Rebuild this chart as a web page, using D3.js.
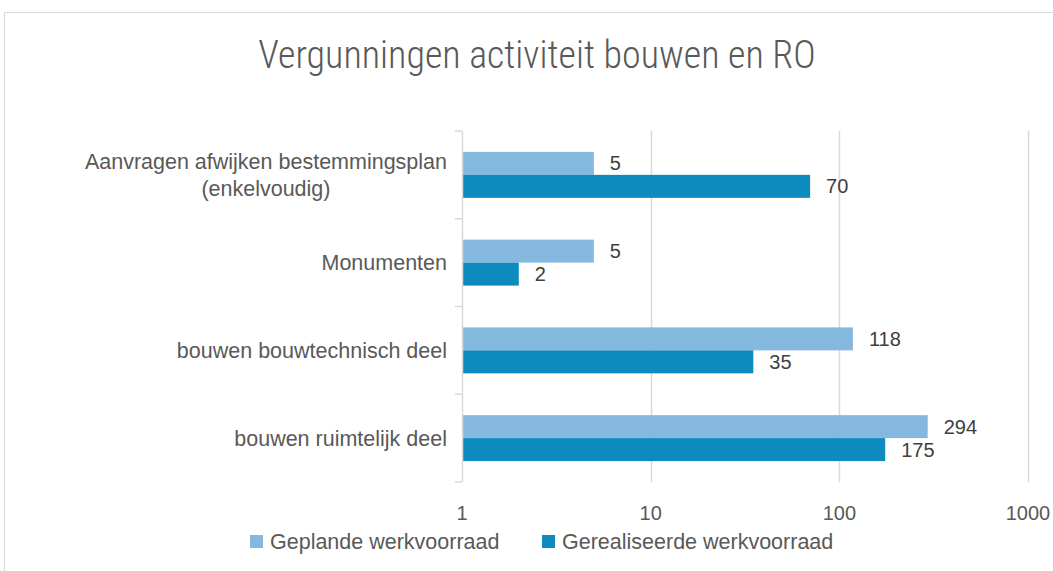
<!DOCTYPE html>
<html><head><meta charset="utf-8">
<script src="https://cdn.jsdelivr.net/npm/d3@7"></script>
<style>
html,body{margin:0;padding:0;background:#fff;}
svg{display:block;}
</style></head>
<body>
<svg id="c" width="1053" height="571"></svg>
<script>
const categories = ["Aanvragen afwijken bestemmingsplan (enkelvoudig)", "Monumenten", "bouwen bouwtechnisch deel", "bouwen ruimtelijk deel"];
const categoryLines = [["Aanvragen afwijken bestemmingsplan", "(enkelvoudig)"], ["Monumenten"], ["bouwen bouwtechnisch deel"], ["bouwen ruimtelijk deel"]];
const seriesNames = ["Geplande werkvoorraad", "Gerealiseerde werkvoorraad"];
const gepland = [5, 5, 118, 294];
const gerealiseerd = [70, 2, 35, 175];
const tickValues = [1, 10, 100, 1000];
const colors = ["#85b8df", "#0d8bbf"];
const title = "Vergunningen activiteit bouwen en RO";

const NARROW = "'Roboto Condensed', 'Liberation Sans Narrow', sans-serif";
const SANS = "'Liberation Sans', Arial, sans-serif";
const svg = d3.select("#c");

// chart border
svg.append("rect").attr("x", 4.5).attr("y", 12.5).attr("width", 1060).attr("height", 570)
  .attr("fill", "none").attr("stroke", "#d9d9d9").attr("stroke-width", 1);

const t = svg.append("text").attr("x", 537).attr("y", 68).attr("text-anchor", "middle")
  .attr("font-family", NARROW).attr("font-weight", 300).attr("font-size", 38).attr("fill", "#595959").text(title);
// keep title width close to the reference
const tw = t.node().getComputedTextLength();
if (tw > 600 || tw < 500) t.attr("textLength", 557).attr("lengthAdjust", "spacingAndGlyphs");

const x = d3.scaleLog().domain([1, 1000]).range([462, 1028]);
const y = d3.scaleBand().domain(categories).range([131, 482]);
const inner = d3.scaleBand().domain(seriesNames).range([0, y.bandwidth()]).paddingInner(0).paddingOuter(0.91);

// gridlines
svg.append("g").selectAll("line").data(tickValues.slice(1)).join("line")
  .attr("x1", d => Math.round(x(d)) + 0.5).attr("x2", d => Math.round(x(d)) + 0.5)
  .attr("y1", 131).attr("y2", 482).attr("stroke", "#d9d9d9").attr("stroke-width", 1.5);

// bars and data labels
categories.forEach((c, i) => {
  [gepland[i], gerealiseerd[i]].forEach((v, j) => {
    const yy = y(c) + inner(seriesNames[j]);
    svg.append("rect").attr("x", x(1)).attr("y", yy).attr("width", x(v) - x(1)).attr("height", inner.bandwidth())
      .attr("fill", colors[j]);
    svg.append("text").attr("x", x(v) + 16).attr("y", yy + inner.bandwidth() / 2).attr("dy", "0.35em")
      .attr("font-family", SANS).attr("font-size", 20).attr("fill", "#404040").text(v);
  });
});

// left axis
const ya = svg.append("g").attr("transform", "translate(462,0)");
ya.append("line").attr("x1", 0.5).attr("x2", 0.5).attr("y1", 131).attr("y2", 482).attr("stroke", "#d9d9d9").attr("stroke-width", 1.5);
const bounds = categories.map(c => y(c)).concat([y(categories[categories.length - 1]) + y.bandwidth()]);
ya.selectAll("line.tk").data(bounds).join("line").attr("x1", -7).attr("x2", 0).attr("y1", d => d).attr("y2", d => d)
  .attr("stroke", "#d9d9d9").attr("stroke-width", 1.5);

// category labels: block right-aligned, lines centered within block
categories.forEach((c, i) => {
  const lines = categoryLines[i];
  const cy = y(c) + y.bandwidth() / 2;
  const lh = 27;
  const grp = svg.append("g");
  const texts = lines.map((l, k) => grp.append("text").attr("y", cy + (k - (lines.length - 1) / 2) * lh).attr("dy", "0.35em")
      .attr("text-anchor", "middle").attr("font-family", SANS).attr("font-size", 21.5).attr("fill", "#595959").text(l));
  const maxW = d3.max(texts, tt => tt.node().getComputedTextLength());
  texts.forEach(tt => tt.attr("x", 447 - maxW / 2));
});

// bottom axis labels
svg.selectAll("text.xt").data(tickValues).join("text").attr("class", "xt").attr("x", d => x(d)).attr("y", 513).attr("dy", "0.35em")
  .attr("text-anchor", "middle").attr("font-family", SANS).attr("font-size", 20).attr("fill", "#595959").text(d => d);

// legend
const legX = [250, 542];
seriesNames.forEach((s, j) => {
  svg.append("rect").attr("x", legX[j]).attr("y", 535).attr("width", 13).attr("height", 13).attr("fill", colors[j]);
  svg.append("text").attr("x", legX[j] + 20).attr("y", 541).attr("dy", "0.35em")
    .attr("font-family", SANS).attr("font-size", 21.5).attr("fill", "#595959").text(s);
});
</script>
</body></html>
